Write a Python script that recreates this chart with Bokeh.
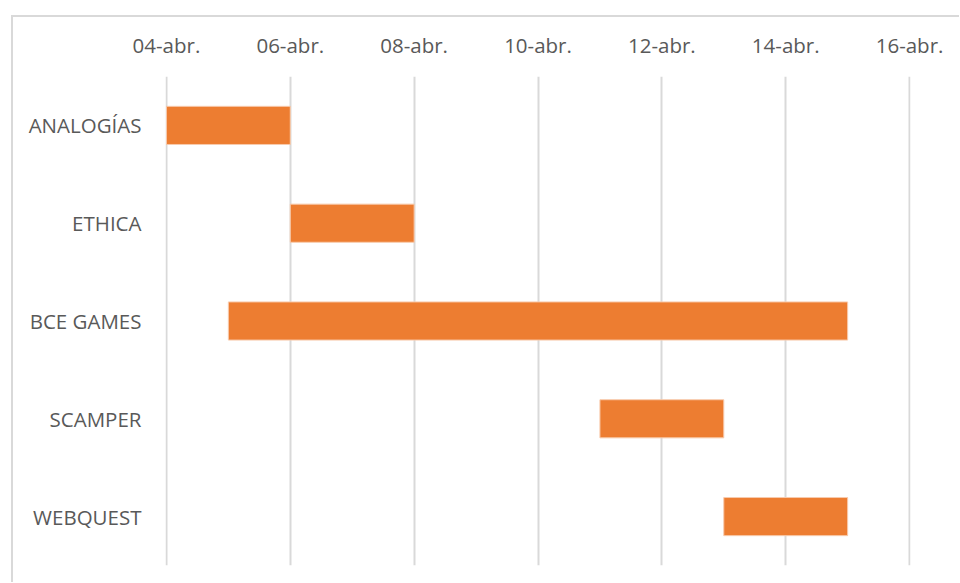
from bokeh.plotting import figure
from bokeh.models import ColumnDataSource, FixedTicker, Range1d
from bokeh.embed import file_html
from bokeh.resources import INLINE

tasks = ["ANALOGÍAS", "ETHICA", "BCE GAMES", "SCAMPER", "WEBQUEST"]
start_day = [4, 6, 5, 11, 13]
end_day = [6, 8, 15, 13, 15]
tick_days = [4, 6, 8, 10, 12, 14, 16]
tick_labels = ["04-abr.", "06-abr.", "08-abr.", "10-abr.", "12-abr.", "14-abr.", "16-abr."]

src = ColumnDataSource(dict(task=tasks, start=start_day, end=end_day))

FONT = "Open Sans"
TXT = "#595959"

p = figure(
    width=948, height=567,
    y_range=list(reversed(tasks)),
    x_range=Range1d(3.985, 16.015),
    x_axis_location="above",
    output_backend="svg",
    toolbar_location=None,
    min_border_left=152, min_border_right=51,
    min_border_top=59, min_border_bottom=19,
)
p.margin = (15, 0, 0, 11)
p.styles = {"border": "2px solid #D9D9D9", "border-right": "none", "border-bottom": "none"}

p.hbar(y="task", left="start", right="end", height=0.39, source=src,
       fill_color="#ED7D31", line_color="#F8CBAD", line_width=1)

p.xaxis.ticker = FixedTicker(ticks=tick_days)
p.xaxis.major_label_overrides = {d: l for d, l in zip(tick_days, tick_labels)}
for ax in (p.xaxis[0], p.yaxis[0]):
    ax.axis_line_color = None
    ax.major_tick_line_color = None
    ax.minor_tick_line_color = None
    ax.major_label_text_font = FONT
    ax.major_label_text_font_size = "20.5px"
    ax.major_label_text_color = TXT
p.xaxis.major_label_standoff = 12
p.yaxis.major_label_standoff = 18

p.xgrid.grid_line_color = "#D9D9D9"
p.xgrid.grid_line_width = 2
p.xgrid.ticker = FixedTicker(ticks=tick_days)
p.ygrid.grid_line_color = None
p.outline_line_color = None
p.background_fill_color = "white"
p.border_fill_color = "white"

open("out.html", "w").write(file_html(p, INLINE))
